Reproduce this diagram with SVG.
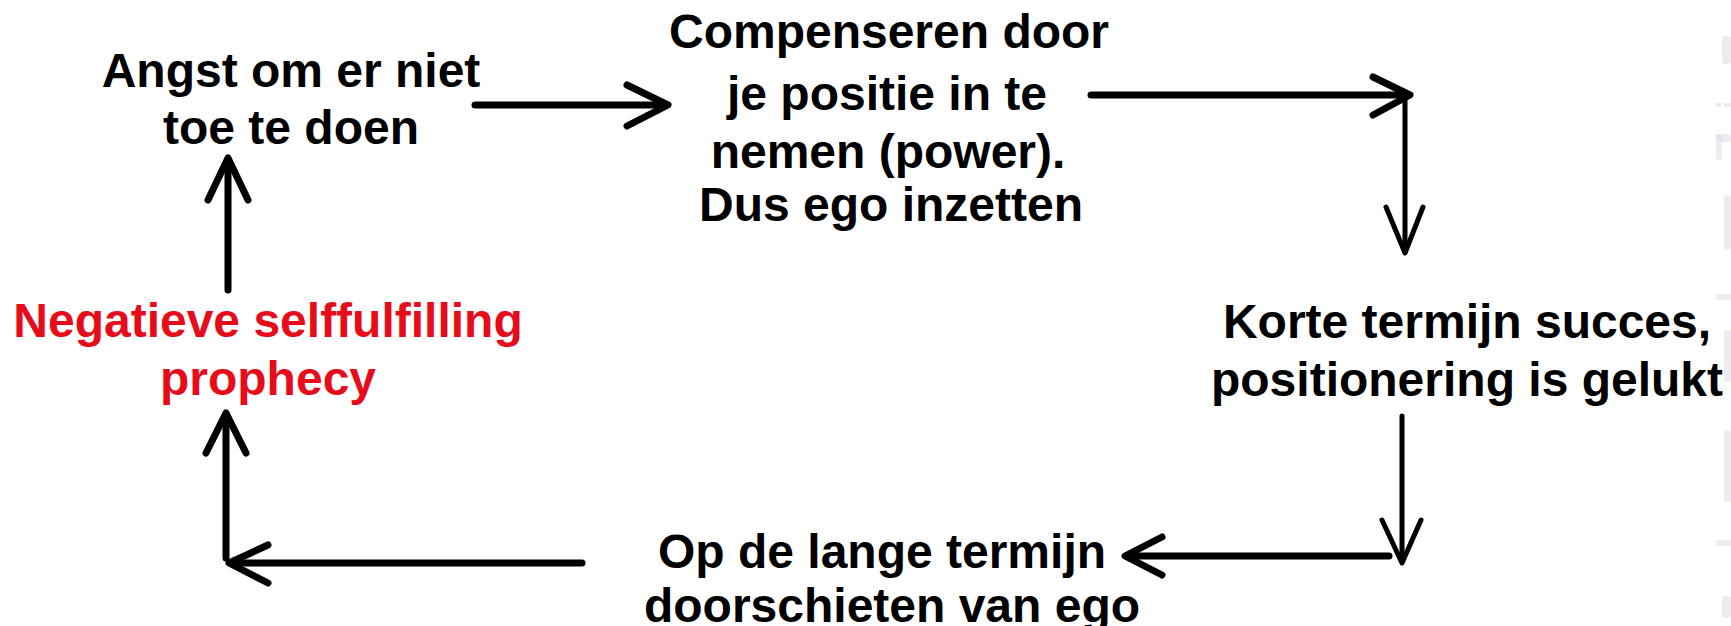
<svg xmlns="http://www.w3.org/2000/svg" width="1731" height="626" viewBox="0 0 1731 626">
<style>
text{font-family:"Liberation Sans",Arial,sans-serif;font-weight:bold;font-size:48px;text-anchor:middle;fill:#000}
.red{fill:#e60c1a}
.c line,.c polyline{stroke:#000;fill:none;stroke-linecap:round;stroke-linejoin:round}
.t{stroke-width:7}
.n{stroke-width:5}
.w rect{fill:#dadae6;opacity:0.55}
</style>
<rect width="1731" height="626" fill="#fff"/>
<g class="w">
<rect x="1722" y="36" width="9" height="28" rx="3"/>
<rect x="1716" y="103" width="5" height="4"/><rect x="1724" y="103" width="7" height="4"/>
<rect x="1716" y="134" width="15" height="8" rx="3"/><rect x="1716" y="134" width="6" height="26" rx="3"/>
<rect x="1724" y="195" width="7" height="55" rx="3"/>
<rect x="1716" y="294" width="15" height="6"/>
<rect x="1724" y="330" width="7" height="52" rx="3"/>
<rect x="1724" y="430" width="7" height="72" rx="3"/>
<rect x="1716" y="540" width="15" height="6"/>
<rect x="1722" y="596" width="9" height="22" rx="3"/>
</g>
<g id="n1"><text x="291" y="87">Angst om er niet</text><text x="291" y="144">toe te doen</text></g>
<g id="n2"><text x="889" y="48">Compenseren door</text><text x="887" y="110">je positie in te</text><text x="888" y="168">nemen (power).</text><text x="891" y="221">Dus ego inzetten</text></g>
<g id="n3"><text x="1467" y="338">Korte termijn succes,</text><text x="1467" y="396">positionering is gelukt</text></g>
<g id="n4"><text x="882" y="568">Op de lange termijn</text><text x="892" y="622">doorschieten van ego</text></g>
<g id="n5"><text class="red" x="268" y="337">Negatieve selffulfilling</text><text class="red" x="268" y="395">prophecy</text></g>
<g id="connectors" class="c">
<line class="t" x1="475" y1="105" x2="666" y2="105"/><polyline class="t" points="627,85 668,105 627,126"/>
<line class="t" x1="1091" y1="95" x2="1408" y2="95"/><polyline class="t" points="1373,77 1410,95 1373,115"/>
<line class="n" x1="1405" y1="95" x2="1405" y2="251"/><polyline class="n" points="1386,207 1405,253 1423,207"/>
<line class="n" x1="1402" y1="416" x2="1402" y2="561"/><polyline class="n" points="1382,520 1402,563 1421,520"/>
<line class="t" x1="1389" y1="556" x2="1127" y2="556"/><polyline class="t" points="1162,537 1125,556 1162,575"/>
<line class="t" x1="582" y1="563" x2="231" y2="563"/><polyline class="t" points="268,545 229,563 268,583"/>
<line class="t" x1="226" y1="558" x2="226" y2="416"/><polyline class="t" points="206,453 226,413 246,453"/>
<line class="t" x1="228" y1="290" x2="228" y2="161"/><polyline class="t" points="208,200 228,158 248,200"/>
</g>
</svg>
